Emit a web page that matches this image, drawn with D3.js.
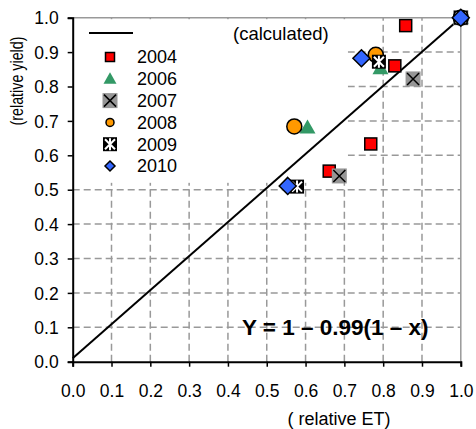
<!DOCTYPE html>
<html>
<head>
<meta charset="utf-8">
<script src="https://cdn.jsdelivr.net/npm/d3@7"></script>
<style>
  body { margin: 0; background: #fff; }
  text { font-family: "Liberation Sans", Arial, sans-serif; fill: #000; }
</style>
</head>
<body>
<div id="chart"></div>
<script>
// values
var years = ["2004", "2006", "2007", "2008", "2009", "2010"];
var etValues = [
  [0.858, 0.830, 0.768, 0.661, 1.0],
  [0.605, 0.793, 1.0],
  [0.877, 0.687, 1.0],
  [0.571, 0.781, 1.0],
  [0.789, 0.578, 1.0],
  [0.744, 0.554, 1.0]
];
var yieldValues = [
  [0.977, 0.860, 0.633, 0.554, 1.0],
  [0.681, 0.853, 1.0],
  [0.822, 0.540, 1.0],
  [0.684, 0.892, 1.0],
  [0.872, 0.509, 1.0],
  [0.882, 0.511, 1.0]
];
var calcX = [0.0, 1.0];
var calcY = [0.01, 1.0];
var tickValues = [0, 0.1, 0.2, 0.3, 0.4, 0.5, 0.6, 0.7, 0.8, 0.9, 1.0];

var w = 476, h = 429;
var m = [17.7, 15.2, 67.3, 72.7]; // top right bottom left

var x = d3.scaleLinear().domain([0, 1]).range([m[3], w - m[1]]);
var y = d3.scaleLinear().domain([0, 1]).range([h - m[2], m[0]]);

var svg = d3.select("#chart").append("svg").attr("width", w).attr("height", h);

// grid
var grid = svg.append("g").attr("stroke", "#999").attr("stroke-width", 1.5).attr("stroke-dasharray", "7,4");
grid.selectAll("line.v").data(tickValues.slice(1, 10)).enter().append("line").attr("class", "v")
  .attr("x1", function(d) { return x(d); }).attr("x2", function(d) { return x(d); })
  .attr("y1", y(0)).attr("y2", y(1));
grid.selectAll("line.h").data(tickValues.slice(1, 10)).enter().append("line").attr("class", "h")
  .attr("y1", function(d) { return y(d); }).attr("y2", function(d) { return y(d); })
  .attr("x1", x(0)).attr("x2", x(1));

// plot border top / right
svg.append("path").attr("fill", "none").attr("stroke", "#999").attr("stroke-width", 1.5)
  .attr("d", "M" + x(0) + "," + y(1) + "H" + x(1) + "V" + y(0));

// legend box (white, covers grid)
svg.append("rect").attr("x", x(0) + 1).attr("y", y(1) + 1.5)
  .attr("width", x(0.709) - x(0) - 1).attr("height", y(0.52) - y(1) - 1.5).attr("fill", "#fff");

// axes
var xAxis = d3.axisBottom(x).tickValues(tickValues).tickSize(5).tickFormat(d3.format(".1f"));
var yAxis = d3.axisLeft(y).tickValues(tickValues).tickSize(5).tickFormat(d3.format(".1f"));
var gx = svg.append("g").attr("transform", "translate(0," + y(0) + ")").call(xAxis);
var gy = svg.append("g").attr("transform", "translate(" + x(0) + ",0)").call(yAxis);
[gx, gy].forEach(function(g) {
  g.select(".domain").attr("stroke", "#000").attr("stroke-width", 2);
  g.selectAll(".tick line").attr("stroke", "#000").attr("stroke-width", 1.5);
  g.selectAll(".tick text").attr("font-family", "Liberation Sans, Arial, sans-serif").attr("font-size", 17.5).attr("fill", "#000");
});
gx.selectAll(".tick text").attr("dy", null).attr("y", 35);
gy.selectAll(".tick text").attr("x", -14).attr("dy", "0.35em");

// calculated line
var line = d3.line().x(function(d) { return x(d[0]); }).y(function(d) { return y(d[1]); });
svg.append("path").datum(d3.zip(calcX, calcY)).attr("fill", "none").attr("stroke", "#000").attr("stroke-width", 2).attr("d", line);

// markers (small = legend size)
function marker(g, yr, small) {
  var s;
  if (yr === "2004") {
    s = small ? 4.5 : 6;
    g.append("rect").attr("x", -s).attr("y", -s).attr("width", 2 * s).attr("height", 2 * s).attr("fill", "#ff0000").attr("stroke", "#000").attr("stroke-width", 1.5);
  } else if (yr === "2006") {
    s = small ? 6.5 : 8;
    g.append("path").attr("d", "M0," + (-s) + "L" + s + "," + (s * 0.75) + "H" + (-s) + "Z").attr("fill", "#339966");
  } else if (yr === "2007") {
    s = 7.5;
    g.append("rect").attr("x", -s).attr("y", -s).attr("width", 2 * s).attr("height", 2 * s).attr("fill", "#969696");
    g.append("path").attr("d", "M-6,-6L6,6M6,-6L-6,6").attr("stroke", "#000").attr("stroke-width", 1.5);
  } else if (yr === "2008") {
    g.append("circle").attr("r", small ? 4 : 7.5).attr("fill", "#ff9900").attr("stroke", "#000").attr("stroke-width", 1.5);
  } else if (yr === "2009") {
    g.append("rect").attr("x", -7).attr("y", -7).attr("width", 14).attr("height", 14).attr("fill", "#000");
    g.append("path").attr("d", "M-5,-5L5,5M5,-5L-5,5M0,-6V6").attr("stroke", "#fff").attr("stroke-width", 2);
  } else {
    s = small ? 5 : 8.5;
    g.append("path").attr("d", "M0," + (-s) + "L" + s + ",0L0," + s + "L" + (-s) + ",0Z").attr("fill", "#3366ff").attr("stroke", "#000").attr("stroke-width", 1.5);
  }
}

years.forEach(function(yr, i) {
  var pts = d3.zip(etValues[i], yieldValues[i]);
  svg.append("g").selectAll("g").data(pts).enter().append("g")
    .attr("transform", function(d) { return "translate(" + x(d[0]) + "," + y(d[1]) + ")"; })
    .each(function() { marker(d3.select(this), yr, false); });
});

// legend
var lg = svg.append("g");
lg.append("line").attr("x1", 89).attr("x2", 133).attr("y1", 33).attr("y2", 33).attr("stroke", "#000").attr("stroke-width", 2);
lg.append("text").attr("x", 233).attr("y", 40).attr("font-size", 18.5).text("(calculated)");
var rows = lg.selectAll("g.row").data(years).enter().append("g").attr("class", "row")
  .attr("transform", function(d, i) { return "translate(110," + (57 + i * 21.8) + ")"; });
rows.each(function(d) { marker(d3.select(this), d, true); });
rows.append("text").attr("x", 27).attr("dy", "0.35em").attr("font-size", 18).text(function(d) { return d; });

// equation
svg.append("text").attr("x", 242).attr("y", y(0.1)).attr("dy", "0.35em").attr("font-size", 22.5).attr("font-weight", "bold")
  .text("Y = 1 \u2013 0.99(1 \u2013 x)");

// axis titles
svg.append("text").attr("x", 339).attr("y", 425).attr("text-anchor", "middle").attr("font-size", 18).text("( relative ET)");
svg.append("text").attr("transform", "translate(23,81) rotate(-90)").attr("text-anchor", "middle").attr("font-size", 18)
  .attr("textLength", 89).attr("lengthAdjust", "spacingAndGlyphs").text("(relative yield)");
</script>
</body>
</html>
